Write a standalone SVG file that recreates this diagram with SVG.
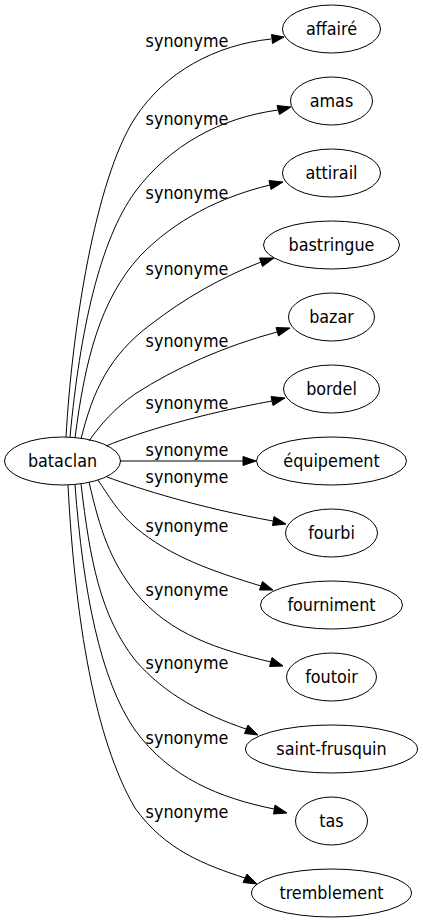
<svg xmlns="http://www.w3.org/2000/svg" width="423" height="923" viewBox="0 0 423 923">
<style>
.n ellipse{fill:none;stroke:#000;stroke-width:1}
text{font-family:"DejaVu Sans Condensed","DejaVu Sans",sans-serif;font-stretch:condensed;font-size:17.8px;fill:#000;text-anchor:middle}
.e path{fill:none;stroke:#000;stroke-width:1}
.e polygon{fill:#000;stroke:#000;stroke-width:1}
</style>
<rect width="423" height="923" fill="#fff"/>
<g id="bataclan" class="n"><ellipse cx="62.5" cy="461" rx="58" ry="24"/><text x="62.5" y="467">bataclan</text></g>
<g id="affaire" class="n"><ellipse cx="331.5" cy="29" rx="49" ry="24"/><text x="331.5" y="35">affairé</text></g>
<g id="amas" class="n"><ellipse cx="331.5" cy="101" rx="41" ry="24"/><text x="331.5" y="107">amas</text></g>
<g id="attirail" class="n"><ellipse cx="331.5" cy="173" rx="49" ry="24"/><text x="331.5" y="179">attirail</text></g>
<g id="bastringue" class="n"><ellipse cx="331.5" cy="245" rx="68" ry="24"/><text x="331.5" y="251">bastringue</text></g>
<g id="bazar" class="n"><ellipse cx="331.5" cy="317" rx="43" ry="24"/><text x="331.5" y="323">bazar</text></g>
<g id="bordel" class="n"><ellipse cx="331.5" cy="389" rx="48" ry="24"/><text x="331.5" y="395">bordel</text></g>
<g id="equipement" class="n"><ellipse cx="331.5" cy="461" rx="75" ry="24"/><text x="331.5" y="467">équipement</text></g>
<g id="fourbi" class="n"><ellipse cx="331.5" cy="533" rx="46" ry="24"/><text x="331.5" y="539">fourbi</text></g>
<g id="fourniment" class="n"><ellipse cx="331.5" cy="605" rx="71" ry="24"/><text x="331.5" y="611">fourniment</text></g>
<g id="foutoir" class="n"><ellipse cx="331.5" cy="677" rx="45" ry="24"/><text x="331.5" y="683">foutoir</text></g>
<g id="saint-frusquin" class="n"><ellipse cx="331.5" cy="749" rx="86" ry="24"/><text x="331.5" y="755">saint-frusquin</text></g>
<g id="tas" class="n"><ellipse cx="331.5" cy="821" rx="36" ry="24"/><text x="331.5" y="827">tas</text></g>
<g id="tremblement" class="n"><ellipse cx="331.5" cy="893" rx="80" ry="24"/><text x="331.5" y="899">tremblement</text></g>
<g id="edges" class="e">
<path d="M66,437 C72,330 95,180 135,118 C165,72 215,45 271,39"/><polygon points="284,37 271.5,34.5 272.5,43.5"/>
<path d="M70,437 C80,330 100,240 135,192 C170,145 220,118 278,110"/><polygon points="291,107 277,105.5 279.5,114.5"/>
<path d="M75,438 C85,360 100,300 140,256 C175,220 220,197 270,185"/><polygon points="283,182 269,180.5 271,189.5"/>
<path d="M81,439 C93,390 110,355 150,325 C185,298 220,278 261,262"/><polygon points="274,258 259.5,258 262.5,266.5"/>
<path d="M89,441 C100,425 115,408 135,394 C175,368 225,346 277,332"/><polygon points="290,328 276,327.5 278.5,336"/>
<path d="M106,446 C140,432 200,414 272,401"/><polygon points="285,398 271,396.5 273,405.5"/>
<path d="M120,461 L243,461"/><polygon points="256,461 243,456.5 243,465.5"/>
<path d="M107,477 C140,489 200,508 273,521"/><polygon points="286,524 274,516.5 272.5,525.5"/>
<path d="M98,480 C108,495 118,512 135,527 C170,557 215,572 261,586"/><polygon points="273,590 262.5,581.5 259.5,590"/>
<path d="M89,482 C100,530 110,560 135,592 C170,635 220,650 271,662"/><polygon points="283,666 272,657.5 269.5,666.5"/>
<path d="M81,484 C90,560 100,615 135,660 C165,695 205,715 246,729"/><polygon points="258,735 248,725 244.5,733.5"/>
<path d="M75,485 C83,590 100,680 135,730 C170,778 220,798 274,809"/><polygon points="287,813 275,805 273.5,814"/>
<path d="M68,485 C75,620 95,740 135,808 C165,850 205,865 245,878"/><polygon points="257,884 247,874 243,882.5"/>
<text x="187" y="47">synonyme</text>
<text x="187" y="125">synonyme</text>
<text x="187" y="199">synonyme</text>
<text x="187" y="275">synonyme</text>
<text x="187" y="347">synonyme</text>
<text x="187" y="409">synonyme</text>
<text x="187" y="456">synonyme</text>
<text x="187" y="483">synonyme</text>
<text x="187" y="532">synonyme</text>
<text x="187" y="596">synonyme</text>
<text x="187" y="669">synonyme</text>
<text x="187" y="744">synonyme</text>
<text x="187" y="818">synonyme</text>
</g>
</svg>
